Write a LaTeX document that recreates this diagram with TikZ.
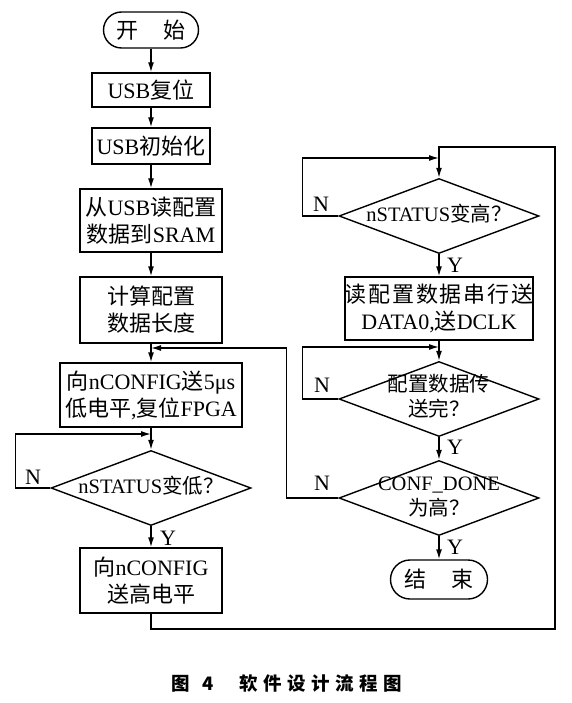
\documentclass[tikz,border=0pt]{standalone}
\usepackage{fontspec}
\setmainfont{Liberation Serif}
\newfontfamily\zh{Noto Sans CJK SC}
\newfontfamily\zhwide[LetterSpace=8]{Noto Sans CJK SC}
\newfontfamily\capfont[LetterSpace=30]{Noto Sans CJK SC}
\usetikzlibrary{arrows.meta, positioning, shapes.geometric}

\newcommand{\dtext}[1]{\makebox[0pt]{\begin{tabular}{@{}c@{}}#1\end{tabular}}}

\begin{document}
\begin{tikzpicture}[x=1pt, y=-1pt, line width=1.4pt,
        >={Latex[length=10pt,width=6pt]},
        every node/.style={font=\fontsize{22}{27}\selectfont, inner sep=0pt},
        box/.style={draw, rectangle, align=center},
        term/.style={draw, rectangle, rounded corners=18pt, font=\fontsize{22}{27}\selectfont\zh},
        decision/.style={draw, diamond, minimum width=200pt, minimum height=75pt, font=\fontsize{20.5}{24}\selectfont}
    ]
        \useasboundingbox (0,0) rectangle (571,703);

        % left column
        \node [term, minimum width=95pt, minimum height=36pt] (start) at (151,30) {开\hspace{26pt}始};
        \node [box, minimum width=118pt, minimum height=34pt] (reset) at (151,90) {USB{\zh 复位}};
        \node [box, minimum width=118pt, minimum height=36pt] (init) at (151,146) {USB{\zh 初始化}};
        \node [box, minimum width=142pt, minimum height=63pt] (read) at (151,220.5) {{\zh 从}USB{\zh 读配置}\\{\zh 数据到}SRAM};
        \node [box, minimum width=142pt, minimum height=66pt, font=\fontsize{22}{27}\selectfont\zh] (calc) at (151,310) {计算配置\\数据长度};
        \node [box, minimum width=182pt, minimum height=64pt] (pulse) at (151,395) {{\zh 向}nCONFIG{\zh 送}5μs\\{\zh 低电平},{\zh 复位}FPGA};
        \node [decision] (low) at (151,488) {\dtext{nSTATUS{\zh 变低？}}};
        \node [box, minimum width=142pt, minimum height=65pt] (high) at (151,580.5) {{\zh 向}nCONFIG\\{\zh 送高电平}};

        % right column
        \node [decision] (hi) at (439,216) {\dtext{nSTATUS{\zh 变高？}}};
        \node [box, minimum width=187pt, minimum height=63pt] (serial) at (439,308.5) {{\zhwide 读配置数据串行送}\\DATA0,{\zh 送}DCLK};
        \node [decision] (done) at (439,399) {\dtext{{\zh 配置数据传}\\{\zh 送完？}}};
        \node [decision] (conf) at (439,498) {\dtext{CONF\_DONE\\{\zh 为高？}}};
        \node [term, rounded corners=19.5pt, minimum width=97pt, minimum height=39pt] (end) at (439,579.5) {结\hspace{26pt}束};

        % loop entry points
        \coordinate (calcout) at (151,348);
        \coordinate (lowin) at (151,434);
        \coordinate (corner) at (555,629);
        \coordinate (hitop) at (439,147);
        \coordinate (hiin) at (439,158);
        \coordinate (donein) at (439,347);

        % main flow
        \draw[->] (start) -- (reset);
        \draw[->] (reset) -- (init);
        \draw[->] (init) -- (read);
        \draw[->] (read) -- (calc);
        \draw[->] (calc) -- (pulse);
        \draw[->] (pulse) -- (low);
        \draw[->] (low) -- (high);
        \draw[->] (high.south) |- (corner) |- (hitop) -- (hi.north);
        \draw[->] (hi) -- (serial);
        \draw[->] (serial) -- (done);
        \draw[->] (done) -- (conf);
        \draw[->] (conf) -- (end);

        % N branches
        \draw[->] (low.west) -- ++(-35,0) |- (lowin);
        \draw[->] (hi.west) -- ++(-36,0) |- (hiin);
        \draw[->] (done.west) -- ++(-36,0) |- (donein);
        \draw[->] (conf.west) -- ++(-52,0) |- (calcout);

        % labels
        \node (nlow) at (33,477) {N};
        \node (ylow) at (168,538) {Y};
        \node (nhi) at (321,204) {N};
        \node (yhi) at (455,265) {Y};
        \node (ndone) at (322,385) {N};
        \node (ydone) at (455,447) {Y};
        \node (nconf) at (322,483) {N};
        \node (yconf) at (455,547) {Y};

        \node [font=\fontsize{18.5}{22}\selectfont\capfont\bfseries] (caption) at (287,683) {图\hspace{12pt}4\hspace{26pt}软件设计流程图};
    \end{tikzpicture}
\end{document}
